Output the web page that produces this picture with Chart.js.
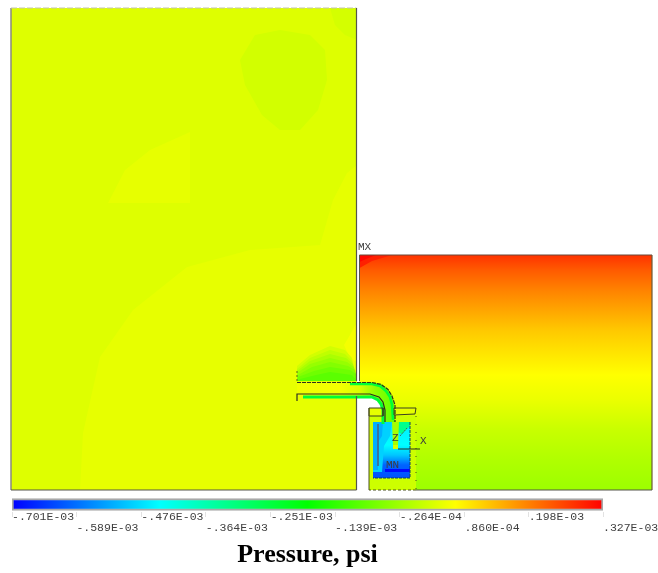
<!DOCTYPE html>
<html>
<head>
<meta charset="utf-8">
<title>Pressure, psi</title>
<script src="https://cdn.jsdelivr.net/npm/chart.js@4"></script>
<style>
    html, body { margin: 0; padding: 0; background: #fff; }
    #page { position: relative; width: 658px; height: 573px; overflow: hidden; }
    #fieldChart { position: absolute; left: 0; top: 0; filter: blur(0.5px); }
    #scaleChart { position: absolute; left: 0; top: 492px; filter: blur(0.3px); }
</style>
</head>
<body>
<div id="page">
    <canvas id="fieldChart" width="658" height="492"></canvas>
    <canvas id="scaleChart" width="658" height="81"></canvas>
</div>
<script>
// Contour legend
const scaleTicks = [-0.701e-3, -0.589e-3, -0.476e-3, -0.364e-3, -0.251e-3, -0.139e-3, -0.264e-4, 0.860e-4, 0.198e-3, 0.327e-3];
const scaleLabels = ['-.701E-03', '-.589E-03', '-.476E-03', '-.364E-03', '-.251E-03', '-.139E-03', '-.264E-04', '.860E-04', '.198E-03', '.327E-03'];
const spectrumPressure = [-0.701e-3, -0.444e-3, -0.187e-3, 0.070e-3, 0.327e-3];
const spectrumColors = [[0, 0, 255], [0, 255, 255], [0, 255, 0], [255, 255, 0], [255, 0, 0]];

// Contour regions, [x, y] in model units
const leftChamber = [[11, 8], [356.5, 8], [356.5, 490], [11, 490]];
const leftLobe = [[80, 490], [83, 433], [100, 357], [133, 310], [187, 267], [250, 250], [320, 245], [333, 200], [347, 173], [357, 165], [357, 490]];
const leftTriangle = [[108, 203], [125, 170], [150, 150], [190, 132], [190, 203]];
const leftBulb = [[240, 60], [245, 85], [262, 115], [280, 130], [300, 130], [318, 110], [327, 80], [325, 50], [310, 35], [280, 30], [255, 35]];
const leftCorner = [[330, 8], [357, 8], [357, 40], [345, 35], [335, 25]];
const jetWall = [[344, 345], [350, 335], [357, 322], [357, 362], [350, 358]];
const jetShell1 = [[297, 381], [297, 366], [310, 355], [330, 346], [345, 350], [352, 358], [357, 381]];
const jetShell2 = [[297, 381], [297, 369], [310, 358], [330, 350], [345, 354], [352, 361], [357, 381]];
const jetShell3 = [[297, 381], [297, 371], [310, 361], [330, 354], [346, 358], [353, 364], [357, 381]];
const jetShell4 = [[297, 381], [297, 373], [310, 364], [330, 358], [347, 362], [354, 367], [357, 381]];
const jetShell5 = [[297, 381], [298, 375], [312, 367], [330, 362], [348, 366], [355, 370], [357, 381]];
const jetShell6 = [[297, 381], [298, 377], [314, 371], [330, 367], [350, 370], [356, 374], [357, 381]];
const jetShell7 = [[297, 381], [300, 379], [316, 375], [330, 372], [352, 375], [357, 381]];
const rightChamber = [[359.5, 255], [652, 255], [652, 490], [359.5, 490]];
const rightWarm = [[359.5, 255], [392, 255], [372, 261], [359.5, 268]];
const rightHot = [[359.5, 255], [376, 255], [366, 259], [359.5, 262]];
const rightGap = [[357, 396], [384, 396], [384, 408], [369, 408], [369, 490], [357, 490]];
const housing = [[369, 416], [416, 416], [416, 490], [369, 490]];
const stubLeft = [[369, 408], [383, 408], [383, 416], [369, 416]];
const stubRight = [[394, 408], [416, 408], [415, 414], [394, 415]];
const cup = [[373, 422], [410, 422], [410, 478], [373, 478]];
const cupShade = [[373, 422], [392, 422], [390, 436], [384, 446], [382, 472], [373, 472]];
const cupLeft = [[373, 422], [383, 422], [382, 436], [378, 442], [378, 470], [373, 470]];
const cupNeck = [[393, 422], [410, 422], [410, 426], [402, 434], [393, 430]];
const cupWedge = [[392, 422], [399, 422], [398, 445], [393, 445]];
const cupProbe = [[393, 445], [398, 445], [398, 449], [393, 449]];
const cupFloor = [[385, 469], [410, 469], [410, 472], [385, 472]];
const pipe = [[297, 382], [372, 382], [382, 384], [388, 389], [392, 396], [394, 404], [395, 422], [383, 422], [383, 408], [381, 402], [376, 398], [370, 396], [297, 396]];

// Pressure values in each region
const leftChamberP = 0.037e-3;
const leftLobeP = 0.046e-3;
const leftTriangleP = 0.046e-3;
const leftBulbP = 0.025e-3;
const leftCornerP = 0.027e-3;
const jetWallP = 0.060e-3;
const jetShellP = [0.025e-3, 0.005e-3, -0.015e-3, -0.035e-3, -0.055e-3, -0.075e-3, -0.095e-3];
const rightWarmP = 0.295e-3;
const rightHotP = 0.320e-3;
const housingP = 0.020e-3;
const stubP = 0.045e-3;
const cupShadeP = -0.490e-3;
const cupLeftP = -0.525e-3;
const cupNeckP = -0.330e-3;
const cupWedgeP = -0.020e-3;
const cupProbeP = 0.030e-3;
const cupFloorP = -0.690e-3;
const wallFlowP = -0.240e-3;

// Pressure against height or position across a region
const rightBandY = [255, 270, 290, 310, 330, 350, 375, 400, 430, 460, 490];
const rightBandP = [0.277e-3, 0.236e-3, 0.196e-3, 0.161e-3, 0.125e-3, 0.100e-3, 0.070e-3, 0.050e-3, 0.015e-3, -0.010e-3, -0.030e-3];
const cupBandY = [422, 432, 445, 455, 465, 478];
const cupBandP = [-0.470e-3, -0.455e-3, -0.445e-3, -0.500e-3, -0.600e-3, -0.620e-3];
const pipeBandX = [297, 340, 360, 375, 395];
const pipeBandP = [0.055e-3, 0.060e-3, 0.030e-3, -0.040e-3, -0.090e-3];

// Flow strips and outlines along the pipe
const wallOuter = [[350, 384], [372, 384], [380, 386], [386, 391], [390, 397], [392, 405], [393, 420]];
const wallInner = [[303, 397], [372, 397], [378, 400], [381, 404], [383, 410], [383, 424]];
const edgeTop = [[297, 382.5], [372, 382.5], [381, 384.5], [388, 389.5], [392, 396], [395, 405], [395, 422]];
const edgeBottom = [[297, 401], [297, 394], [370, 394], [379, 397], [383, 402], [385, 410], [385, 422]];
const edgeJet = [[297, 371], [297, 382]];
const cupRod = [[378, 424], [378, 466]];
const cupVane = [[400, 436], [407, 428]];
const leaderLine = [[398, 449], [420, 449]];

const modelLabels = ['MX', 'MN', 'X', 'Z'];
const modelLabelX = [358, 386, 420, 392];
const modelLabelY = [247, 465, 441, 438];

// Map a pressure onto the rainbow scale of the legend
function pressureColor(p) {
    const n = spectrumPressure.length - 1;
    let i = 0;
    while (i < n - 1 && p > spectrumPressure[i + 1]) i++;
    const t = Math.min(1, Math.max(0, (p - spectrumPressure[i]) / (spectrumPressure[i + 1] - spectrumPressure[i])));
    const a = spectrumColors[i];
    const b = spectrumColors[i + 1];
    return `rgb(${Math.round(a[0] + (b[0] - a[0]) * t)}, ${Math.round(a[1] + (b[1] - a[1]) * t)}, ${Math.round(a[2] + (b[2] - a[2]) * t)})`;
}

// Scriptable fill that runs through pressures along one scale
function bandFill(axis, positions, pressures) {
    return function(context) {
        const chart = context.chart;
        if (!chart.chartArea) return pressureColor(pressures[0]);
        const scale = chart.scales[axis];
        const from = scale.getPixelForValue(positions[0]);
        const to = scale.getPixelForValue(positions[positions.length - 1]);
        const gradient = axis === 'x'
            ? chart.ctx.createLinearGradient(from, 0, to, 0)
            : chart.ctx.createLinearGradient(0, from, 0, to);
        positions.forEach((pos, i) => {
            gradient.addColorStop((pos - positions[0]) / (positions[positions.length - 1] - positions[0]), pressureColor(pressures[i]));
        });
        return gradient;
    };
}

function toPoints(pairs) {
    return pairs.map(pair => ({ x: pair[0], y: pair[1] }));
}

function region(pairs, fillColor) {
    return {
        data: toPoints(pairs),
        showLine: true,
        fill: 'shape',
        backgroundColor: fillColor,
        borderWidth: 0,
        pointRadius: 0,
        tension: 0
    };
}

function stroke(pairs, color, width, dash) {
    return {
        data: toPoints(pairs),
        showLine: true,
        fill: false,
        borderColor: color,
        borderWidth: width,
        borderDash: dash || [],
        pointRadius: 0,
        tension: 0
    };
}

document.addEventListener('DOMContentLoaded', function() {
    initFieldChart();
    initScaleChart();
});

function initFieldChart() {
    const jetShells = [jetShell1, jetShell2, jetShell3, jetShell4, jetShell5, jetShell6, jetShell7];
    const layers = [
        region(leftChamber, pressureColor(leftChamberP)),
        region(leftLobe, pressureColor(leftLobeP)),
        region(leftTriangle, pressureColor(leftTriangleP)),
        region(leftBulb, pressureColor(leftBulbP)),
        region(leftCorner, pressureColor(leftCornerP)),
        region(jetWall, pressureColor(jetWallP)),
        ...jetShells.map((shell, i) => region(shell, pressureColor(jetShellP[i]))),
        region(rightChamber, bandFill('y', rightBandY, rightBandP)),
        region(rightWarm, pressureColor(rightWarmP)),
        region(rightHot, pressureColor(rightHotP)),
        region(rightGap, '#ffffff'),
        region(housing, pressureColor(housingP)),
        region(stubLeft, pressureColor(stubP)),
        region(stubRight, pressureColor(stubP)),
        region(cup, bandFill('y', cupBandY, cupBandP)),
        region(cupShade, pressureColor(cupShadeP)),
        region(cupLeft, pressureColor(cupLeftP)),
        region(cupFloor, pressureColor(cupFloorP)),
        region(cupNeck, pressureColor(cupNeckP)),
        region(cupWedge, pressureColor(cupWedgeP)),
        region(cupProbe, pressureColor(cupProbeP)),
        region(pipe, bandFill('x', pipeBandX, pipeBandP)),
        stroke(wallOuter, pressureColor(wallFlowP), 2.5),
        stroke(wallInner, pressureColor(wallFlowP), 3),
        // Outlines
        stroke([leftChamber[0], leftChamber[3]], '#8a8a80', 1.5),
        stroke([leftChamber[0], leftChamber[1]], '#c4c4a8', 1, [6, 2]),
        stroke([leftChamber[3], leftChamber[2]], '#55554a', 1.2),
        stroke([leftChamber[1], [356.5, 381]], '#55554a', 1.2),
        stroke([[356.5, 396], leftChamber[2]], '#55554a', 1.2),
        stroke(rightChamber.slice(0, 2), '#6b4a3a', 1.2),
        stroke(rightChamber.slice(1, 3), '#6b5a3a', 1.2),
        stroke([[416, 490], rightChamber[2]], '#55554a', 1.2),
        stroke([rightChamber[0], [359.5, 381]], '#55554a', 1),
        stroke(edgeTop, '#2a3020', 1.2, [4, 1]),
        stroke(edgeBottom, '#2a3020', 1.2),
        stroke(edgeJet, '#5a6a20', 1, [2, 2]),
        stroke(stubLeft.concat([stubLeft[0]]), '#3a4020', 1),
        stroke(stubRight.concat([stubRight[0]]), '#3a4020', 1),
        stroke(cup.slice(1, 4), '#104060', 1, [3, 1]),
        stroke(cupRod, '#406a90', 1),
        stroke(cupVane, '#406a60', 1, [2, 1]),
        stroke([housing[1], housing[2]], '#4a5020', 1, [1, 7]),
        stroke([housing[2], housing[3]], '#4a5020', 1, [3, 2]),
        stroke([housing[3], stubLeft[0]], '#4a5020', 1),
        stroke(leaderLine, '#2a3020', 1)
    ];
    // The last layer in the list is painted on top
    layers.forEach((layer, i) => { layer.order = layers.length - i; });

    const modelText = {
        id: 'modelText',
        afterDatasetsDraw(chart) {
            const { ctx, scales } = chart;
            ctx.save();
            ctx.font = "11px 'Liberation Mono', monospace";
            ctx.fillStyle = '#3c3c3c';
            ctx.textBaseline = 'middle';
            modelLabels.forEach((label, i) => {
                ctx.fillText(label, scales.x.getPixelForValue(modelLabelX[i]), scales.y.getPixelForValue(modelLabelY[i]));
            });
            ctx.restore();
        }
    };

    new Chart(document.getElementById('fieldChart'), {
        type: 'scatter',
        data: { datasets: layers },
        options: {
            responsive: false,
            animation: false,
            layout: { padding: 0 },
            plugins: {
                legend: { display: false },
                tooltip: { enabled: false }
            },
            scales: {
                x: { type: 'linear', display: false, min: 0, max: 658 },
                y: { type: 'linear', display: false, min: 0, max: 492, reverse: true }
            }
        },
        plugins: [modelText]
    });
}

function initScaleChart() {
    const lowest = scaleTicks[0];
    const highest = scaleTicks[scaleTicks.length - 1];

    new Chart(document.getElementById('scaleChart'), {
        type: 'bar',
        data: {
            labels: ['Pressure'],
            datasets: [{
                data: [[lowest, highest]],
                backgroundColor: bandFill('x', spectrumPressure, spectrumPressure),
                borderColor: '#a8a8a8',
                borderWidth: 2,
                borderSkipped: false,
                barThickness: 12
            }]
        },
        options: {
            indexAxis: 'y',
            responsive: false,
            animation: false,
            layout: { padding: { left: 12, right: 55, top: 5, bottom: 2 } },
            plugins: {
                legend: { display: false },
                tooltip: { enabled: false }
            },
            scales: {
                y: { display: false },
                x: {
                    type: 'linear',
                    position: 'bottom',
                    min: lowest,
                    max: highest,
                    border: { display: false },
                    grid: { drawOnChartArea: false, drawTicks: true, tickLength: 5, color: '#e2e2e2' },
                    afterBuildTicks: function(axis) {
                        axis.ticks = scaleTicks.map(value => ({ value: value }));
                    },
                    // Leave the plot just tall enough for the colour bar
                    afterFit: function(axis) {
                        axis.height = 59;
                    },
                    ticks: {
                        autoSkip: false,
                        maxRotation: 0,
                        minRotation: 0,
                        align: 'start',
                        padding: -5,
                        color: '#404040',
                        font: { family: "'Liberation Mono', monospace", size: 11.5, lineHeight: 0.9 },
                        // Every second label sits on a lower row
                        callback: function(value, index) {
                            return index % 2 ? ['', scaleLabels[index]] : scaleLabels[index];
                        }
                    },
                    title: {
                        display: true,
                        text: 'Pressure, psi',
                        color: '#000000',
                        padding: { top: 7, bottom: 0 },
                        font: { family: "'Liberation Serif', serif", size: 26, weight: 'bold' }
                    }
                }
            }
        }
    });
}
</script>
</body>
</html>
